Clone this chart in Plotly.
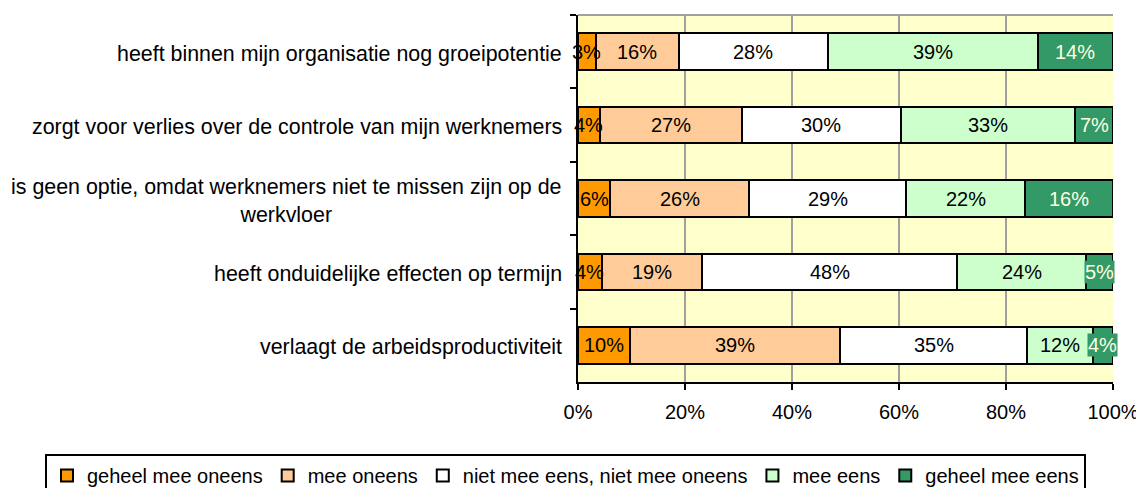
import plotly.graph_objects as go

categories = [
    "heeft binnen mijn organisatie nog groeipotentie",
    "zorgt voor verlies over de controle van mijn werknemers",
    "is geen optie, omdat werknemers niet te missen zijn op de<br>werkvloer",
    "heeft onduidelijke effecten op termijn",
    "verlaagt de arbeidsproductiviteit",
]
series_names = [
    "geheel mee oneens",
    "mee oneens",
    "niet mee eens, niet mee oneens",
    "mee eens",
    "geheel mee eens",
]
geheel_mee_oneens = [3.3, 4.1, 6.0, 4.4, 9.8]
mee_oneens = [15.6, 26.6, 26.0, 18.8, 39.2]
neutraal = [27.8, 29.6, 29.4, 47.7, 34.9]
mee_eens = [39.2, 32.6, 22.2, 24.0, 12.3]
geheel_mee_eens = [14.1, 7.1, 16.4, 5.1, 3.8]
x_ticks = [0, 20, 40, 60, 80, 100]

series_values = [geheel_mee_oneens, mee_oneens, neutraal, mee_eens, geheel_mee_eens]
colors = ["#FF9900", "#FFCC99", "#FFFFFF", "#CCFFCC", "#339966"]
text_colors = ["#000000", "#000000", "#000000", "#000000", "#FFFFE0"]
text_bg = [None, None, None, None, "#339966"]

FONT = "Liberation Sans, Arial, sans-serif"
FS = 20
FS_CAT = 21.4

# the page has an 8px body margin, so the figure is drawn 8px smaller
W, H = 1136, 480
L, R, T, B = 570, 31, 7, 106
plot_w = W - L - R
plot_h = H - T - B

fig = go.Figure()
for name, vals, col in zip(series_names, series_values, colors):
    fig.add_trace(go.Bar(
        y=categories, x=vals, name=name, orientation="h",
        marker=dict(color=col, line=dict(color="#000000", width=2)),
        hoverinfo="skip",
    ))

# value labels drawn on top of all bars
cum = [0.0] * len(categories)
for vals, tcol, bg in zip(series_values, text_colors, text_bg):
    for i, (cat, v) in enumerate(zip(categories, vals)):
        fig.add_annotation(
            x=cum[i] + v / 2, y=cat, xref="x", yref="y",
            text=f"{round(v):.0f}%", showarrow=False,
            xanchor="center", yanchor="middle", borderpad=0,
            bgcolor=bg,
            font=dict(family=FONT, size=FS, color=tcol),
        )
        cum[i] += v

for cat in categories:
    fig.add_annotation(
        x=0, xref="paper", y=cat, yref="y", xanchor="right", yanchor="middle",
        xshift=-14, yshift=-2, text=cat, showarrow=False, align="center",
        font=dict(family=FONT, size=FS_CAT, color="#000000"),
    )

fig.add_shape(type="line", xref="paper", yref="paper", x0=0, x1=1, y0=1, y1=1,
              line=dict(color="#A0A0A0", width=2), layer="below")

fig.update_layout(
    width=W, height=H,
    margin=dict(l=L, r=R, t=T, b=B, autoexpand=False),
    barmode="stack", bargap=0.5,
    plot_bgcolor="#FFFFCC", paper_bgcolor="#FFFFFF",
    font=dict(family=FONT, size=FS, color="#000000"),
    showlegend=True,
    legend=dict(
        orientation="h", xref="paper", yref="paper",
        x=(37 - L) / plot_w, xanchor="left",
        y=-(446 - (H - B)) / plot_h, yanchor="top",
        bordercolor="#000000", borderwidth=2, bgcolor="#FFFFFF",
        font=dict(family=FONT, size=FS, color="#000000"),
        traceorder="normal", itemwidth=30,
    ),
    xaxis=dict(
        range=[0, 100], tickvals=x_ticks, ticktext=[f"{t}%" for t in x_ticks],
        showgrid=True, gridcolor="#A0A0A0", gridwidth=2,
        showline=True, linecolor="#000000", linewidth=2,
        ticks="outside", ticklen=6, tickwidth=2, tickcolor="#000000",
        ticklabelstandoff=5,
        zeroline=False, tickfont=dict(family=FONT, size=FS),
    ),
    yaxis=dict(
        autorange="reversed", showticklabels=False,
        showline=True, linecolor="#000000", linewidth=2,
        ticks="outside", ticklen=6, tickwidth=2, tickcolor="#000000",
        tickson="boundaries", showgrid=False,
    ),
)

fig.write_html("out.html")
